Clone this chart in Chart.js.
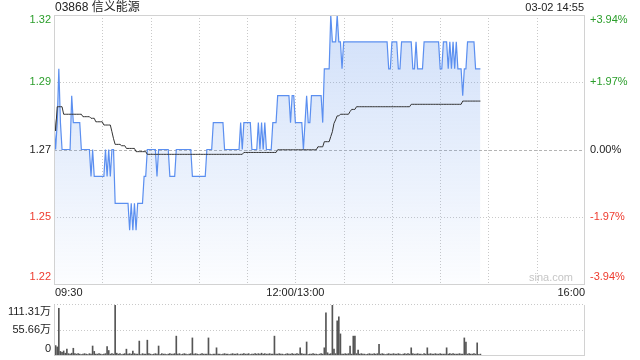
<!DOCTYPE html>
<html><head><meta charset="utf-8">
<script src="https://cdn.jsdelivr.net/npm/chart.js@4/dist/chart.umd.min.js"></script>
<style>
html,body{margin:0;padding:0;background:#fff;}
#wrap{position:relative;width:640px;height:360px;overflow:hidden;}
#pc{position:absolute;left:0;top:0;}
#vc{position:absolute;left:0;top:300px;}
</style></head><body>
<div id="wrap"><canvas id="pc" width="640" height="300"></canvas><canvas id="vc" width="640" height="60"></canvas></div>
<script>
const TITLE = '03868 信义能源';
const STAMP = '03-02 14:55';
const WATERMARK = 'sina.com';
const PREV_CLOSE = 1.27;
const priceTickValues = [1.32, 1.295, 1.27, 1.245, 1.22];
const priceTickLabels = ['1.32', '1.29', '1.27', '1.25', '1.22'];
const pctTickLabels = ['+3.94%', '+1.97%', '0.00%', '-1.97%', '-3.94%'];
const timeTickValues = [0, 150, 330];
const timeTickLabels = ['09:30', '12:00/13:00', '16:00'];
const volTickValues = [111.31, 55.66, 0];
const volTickLabels = ['111.31万', '55.66万', '0'];

// one value per trading minute from 09:30 (minute 0) to 14:55 (minute 265)
const price = [
1.28,1.27,1.28,1.30,1.28,1.27,1.27,1.27,1.27,1.27,
1.27,1.29,1.28,1.28,1.28,1.28,1.28,1.27,1.27,1.27,
1.27,1.27,1.27,1.26,1.27,1.26,1.26,1.26,1.26,1.26,
1.26,1.26,1.27,1.26,1.27,1.26,1.27,1.27,1.25,1.25,
1.25,1.25,1.25,1.25,1.25,1.25,1.25,1.24,1.25,1.24,
1.25,1.24,1.25,1.25,1.25,1.25,1.26,1.26,1.27,1.27,
1.27,1.27,1.27,1.27,1.26,1.27,1.27,1.27,1.27,1.27,
1.27,1.27,1.26,1.26,1.26,1.26,1.27,1.27,1.27,1.27,
1.27,1.27,1.27,1.27,1.27,1.27,1.26,1.26,1.26,1.26,
1.26,1.26,1.26,1.26,1.26,1.27,1.27,1.27,1.27,1.28,
1.28,1.28,1.28,1.28,1.28,1.28,1.27,1.27,1.27,1.27,
1.27,1.27,1.27,1.27,1.27,1.27,1.28,1.27,1.28,1.28,
1.28,1.28,1.28,1.27,1.27,1.27,1.27,1.28,1.27,1.28,
1.27,1.28,1.27,1.27,1.27,1.27,1.28,1.28,1.28,1.29,
1.29,1.29,1.29,1.29,1.29,1.29,1.29,1.28,1.29,1.29,
1.28,1.28,1.28,1.28,1.28,1.27,1.28,1.29,1.28,1.28,
1.29,1.29,1.29,1.29,1.29,1.29,1.29,1.28,1.30,1.30,
1.30,1.30,1.32,1.31,1.31,1.31,1.32,1.31,1.31,1.30,
1.31,1.31,1.31,1.31,1.31,1.31,1.31,1.31,1.31,1.31,
1.31,1.31,1.31,1.31,1.31,1.31,1.31,1.31,1.31,1.31,
1.31,1.31,1.31,1.31,1.31,1.31,1.31,1.31,1.30,1.30,
1.31,1.31,1.31,1.31,1.30,1.30,1.31,1.31,1.31,1.31,
1.31,1.31,1.31,1.30,1.30,1.31,1.30,1.30,1.30,1.30,
1.31,1.31,1.31,1.31,1.31,1.31,1.31,1.31,1.31,1.31,
1.30,1.30,1.31,1.31,1.31,1.30,1.31,1.30,1.31,1.30,
1.31,1.30,1.30,1.30,1.29,1.30,1.30,1.31,1.31,1.31,
1.31,1.31,1.30,1.30,1.30,1.30
];
const avgPrice = [
1.2836,1.2769,1.2859,1.2859,1.2859,1.2859,1.2831,1.2831,1.2831,1.2831,
1.2831,1.2831,1.2831,1.2831,1.2831,1.2831,1.2831,1.2831,1.2822,1.2822,
1.2822,1.2822,1.2822,1.2816,1.2816,1.2816,1.2803,1.2803,1.2803,1.2803,
1.2803,1.2791,1.2791,1.2791,1.2791,1.2791,1.2766,1.2740,1.2719,1.2719,
1.2719,1.2719,1.2714,1.2714,1.2714,1.2704,1.2704,1.2704,1.2704,1.2704,
1.2704,1.2692,1.2692,1.2692,1.2692,1.2692,1.2692,1.2692,1.2682,1.2682,
1.2682,1.2682,1.2682,1.2682,1.2682,1.2682,1.2682,1.2682,1.2682,1.2682,
1.2682,1.2682,1.2682,1.2682,1.2682,1.2682,1.2682,1.2682,1.2682,1.2682,
1.2682,1.2682,1.2682,1.2682,1.2682,1.2682,1.2682,1.2682,1.2682,1.2682,
1.2682,1.2682,1.2682,1.2682,1.2682,1.2682,1.2682,1.2682,1.2682,1.2682,
1.2682,1.2682,1.2682,1.2682,1.2682,1.2682,1.2682,1.2682,1.2682,1.2682,
1.2682,1.2682,1.2682,1.2682,1.2682,1.2682,1.2682,1.2682,1.2689,1.2689,
1.2689,1.2689,1.2689,1.2689,1.2689,1.2689,1.2689,1.2689,1.2689,1.2689,
1.2689,1.2689,1.2689,1.2689,1.2689,1.2689,1.2689,1.2689,1.2689,1.2699,
1.2699,1.2699,1.2699,1.2699,1.2699,1.2699,1.2699,1.2699,1.2699,1.2699,
1.2699,1.2699,1.2699,1.2699,1.2699,1.2699,1.2699,1.2699,1.2699,1.2699,
1.2699,1.2699,1.2699,1.2699,1.2710,1.2710,1.2710,1.2710,1.2729,1.2729,
1.2729,1.2729,1.2748,1.2766,1.2797,1.2810,1.2825,1.2825,1.2831,1.2831,
1.2831,1.2831,1.2831,1.2831,1.2841,1.2849,1.2849,1.2849,1.2859,1.2859,
1.2859,1.2859,1.2859,1.2859,1.2859,1.2859,1.2859,1.2859,1.2859,1.2859,
1.2859,1.2859,1.2859,1.2859,1.2859,1.2859,1.2859,1.2859,1.2859,1.2859,
1.2859,1.2859,1.2859,1.2859,1.2859,1.2859,1.2859,1.2859,1.2859,1.2859,
1.2859,1.2859,1.2868,1.2868,1.2868,1.2868,1.2868,1.2868,1.2868,1.2868,
1.2868,1.2868,1.2868,1.2868,1.2868,1.2868,1.2868,1.2868,1.2868,1.2868,
1.2868,1.2868,1.2868,1.2868,1.2868,1.2868,1.2868,1.2868,1.2868,1.2868,
1.2868,1.2868,1.2868,1.2868,1.2880,1.2880,1.2880,1.2880,1.2880,1.2880,
1.2880,1.2880,1.2880,1.2880,1.2880,1.2880
];
// volume per minute, in 万 shares
const volume = [
5,21,18,104,8,6,9,4,13,3,
2,4,15,3,2,3,2,1,2,3,
2,1,3,2,20,8,2,2,3,2,
1,2,3,19,10,2,3,2,111.31,4,
2,3,1,2,3,13,2,3,2,9,
3,2,2,31,1,3,2,2,33,3,
2,1,2,3,2,20,1,3,2,2,
1,2,3,2,2,3,42,2,3,1,
2,3,2,1,2,3,38,2,3,2,
1,2,3,2,2,2,38,2,1,2,
2,16,2,2,1,2,3,2,2,1,
2,3,2,2,3,1,2,2,3,2,
2,3,1,2,2,3,2,3,2,4,
2,3,2,2,3,2,2,42,2,2,
3,2,2,1,2,3,2,2,3,2,
2,3,2,16,3,2,2,29,1,2,
2,3,2,2,1,2,3,2,16,94,
5,2,3,111.31,13,3,76,85,47,2,
2,3,2,3,20,2,42,42,3,11,
2,3,2,2,1,2,3,2,2,3,
2,3,24,2,3,2,1,2,3,2,
2,3,2,2,3,2,1,2,3,2,
3,2,16,3,2,2,3,2,2,1,
3,2,16,2,3,2,2,3,2,2,
3,2,2,2,16,2,3,2,3,2,
2,2,3,2,2,38,29,2,3,2,
2,3,2,27,1,2
];

const FONT = '"Liberation Sans","Noto Sans CJK SC",Arial,sans-serif';
const GREEN = '#2b9e2b', RED = '#ee3b2e', DARK = '#222';
const GRID = '#c9c9c9', BORDER = '#d2d2d2';
const colorFor = v => v > PREV_CLOSE + 1e-9 ? GREEN : (v < PREV_CLOSE - 1e-9 ? RED : DARK);

function hLine(ctx, x1, x2, y, dash, color){
  ctx.save(); ctx.strokeStyle = color; ctx.lineWidth = 1; ctx.setLineDash(dash);
  ctx.beginPath(); ctx.moveTo(x1, Math.round(y) + 0.5); ctx.lineTo(x2, Math.round(y) + 0.5); ctx.stroke(); ctx.restore();
}
function vLine(ctx, x, y1, y2, dash, color){
  ctx.save(); ctx.strokeStyle = color; ctx.lineWidth = 1; ctx.setLineDash(dash);
  ctx.beginPath(); ctx.moveTo(Math.round(x) + 0.5, y1); ctx.lineTo(Math.round(x) + 0.5, y2); ctx.stroke(); ctx.restore();
}

const pricePlugin = {
  id: 'priceDecor',
  beforeDatasetsDraw(chart){
    const {ctx, chartArea: a, scales: {x, y}} = chart;
    for (let m = 30; m < 330; m += 30) vLine(ctx, x.getPixelForValue(m), a.top, a.bottom, [1, 2], GRID);
    priceTickValues.forEach(v => {
      if (v === 1.32 || v === 1.22) return;
      if (v === PREV_CLOSE) hLine(ctx, a.left, a.right, y.getPixelForValue(v), [3, 2], '#b4b4b4');
      else hLine(ctx, a.left, a.right, y.getPixelForValue(v), [1, 2], GRID);
    });
  },
  afterDraw(chart){
    const {ctx, chartArea: a, scales: {x, y}} = chart;
    ctx.save();
    ctx.strokeStyle = BORDER; ctx.lineWidth = 1; ctx.setLineDash([]);
    ctx.strokeRect(Math.round(a.left) + 0.5, Math.round(a.top) + 0.5, Math.round(a.right - a.left) - 1, Math.round(a.bottom - a.top));
    ctx.font = '11px ' + FONT; ctx.textBaseline = 'middle';
    priceTickValues.forEach((v, i) => {
      let py = y.getPixelForValue(v);
      py = Math.min(Math.max(py, a.top + 5), a.bottom - 7);
      ctx.fillStyle = colorFor(v);
      ctx.textAlign = 'right'; ctx.fillText(priceTickLabels[i], a.left - 3, py);
      ctx.textAlign = 'left'; ctx.fillText(pctTickLabels[i], a.right + 5, py);
    });
    ctx.fillStyle = DARK;
    timeTickValues.forEach((m, i) => {
      const px = x.getPixelForValue(m);
      ctx.textAlign = i === 0 ? 'left' : (i === timeTickValues.length - 1 ? 'right' : 'center');
      ctx.fillText(timeTickLabels[i], i === 0 ? px + 1 : px, a.bottom + 9);
    });
    ctx.font = '12px ' + FONT; ctx.textAlign = 'left'; ctx.fillStyle = DARK;
    ctx.fillText(TITLE, a.left + 1, 8);
    ctx.font = '11px ' + FONT; ctx.textAlign = 'right';
    ctx.fillText(STAMP, a.right - 1, 8);
    ctx.fillStyle = '#c6c6c6'; ctx.textAlign = 'right';
    ctx.fillText(WATERMARK, a.right - 12, a.bottom - 6);
    ctx.restore();
  }
};

const volPlugin = {
  id: 'volDecor',
  beforeDatasetsDraw(chart){
    const {ctx, chartArea: a, scales: {y}} = chart;
    hLine(ctx, a.left, a.right, y.getPixelForValue(55.66), [1, 2], GRID);
    hLine(ctx, a.left, a.right, a.top - 1, [1, 2], GRID);
  },
  afterDraw(chart){
    const {ctx, chartArea: a, scales: {y}} = chart;
    vLine(ctx, a.left, a.top, a.bottom, [], BORDER);
    vLine(ctx, a.right - 1, a.top, a.bottom, [], BORDER);
    hLine(ctx, a.left, a.right, a.bottom, [], BORDER);
    ctx.save();
    ctx.font = '11px ' + FONT; ctx.textBaseline = 'middle'; ctx.textAlign = 'right'; ctx.fillStyle = DARK;
    volTickValues.forEach((v, i) => {
      let py = y.getPixelForValue(v);
      py = Math.min(Math.max(py, a.top + 7), a.bottom - 6);
      ctx.fillText(volTickLabels[i], a.left - 3, py);
    });
    ctx.restore();
  }
};

const minuteScale = {type: 'linear', min: 0, max: 330, display: false};

new Chart(document.getElementById('pc'), {
  type: 'line',
  data: {
    datasets: [
      {
        data: price.map((v, i) => ({x: i, y: v})),
        borderColor: '#5b8ff0', borderWidth: 1.2, pointRadius: 0, tension: 0,
        fill: 'start',
        backgroundColor: (c) => {
          const a = c.chart.chartArea;
          if (!a) return 'rgba(100,150,235,0.15)';
          const g = c.chart.ctx.createLinearGradient(0, a.top, 0, a.bottom);
          g.addColorStop(0, 'rgba(100,150,235,0.30)');
          g.addColorStop(1, 'rgba(100,150,235,0.02)');
          return g;
        },
        order: 2
      },
      {
        data: avgPrice.map((v, i) => ({x: i, y: v})),
        borderColor: '#333', borderWidth: 1, pointRadius: 0, tension: 0, fill: false,
        order: 1
      }
    ]
  },
  options: {
    responsive: false, animation: false, events: [],
    layout: {padding: {left: 54, right: 55, top: 15, bottom: 16}},
    plugins: {legend: {display: false}, tooltip: {enabled: false}},
    scales: {
      x: minuteScale,
      y: {type: 'linear', min: 1.22, max: 1.32, display: false}
    }
  },
  plugins: [pricePlugin]
});

new Chart(document.getElementById('vc'), {
  type: 'bar',
  data: {
    datasets: [{
      data: volume.map((v, i) => ({x: i, y: v})),
      backgroundColor: '#555', borderWidth: 0, barThickness: 1
    }]
  },
  options: {
    responsive: false, animation: false, events: [],
    layout: {padding: {left: 54, right: 55, top: 5, bottom: 5}},
    plugins: {legend: {display: false}, tooltip: {enabled: false}},
    scales: {
      x: {type: 'linear', min: 0, max: 330, display: false, offset: false},
      y: {type: 'linear', min: 0, max: 111.31, display: false}
    }
  },
  plugins: [volPlugin]
});
</script>
</body></html>
